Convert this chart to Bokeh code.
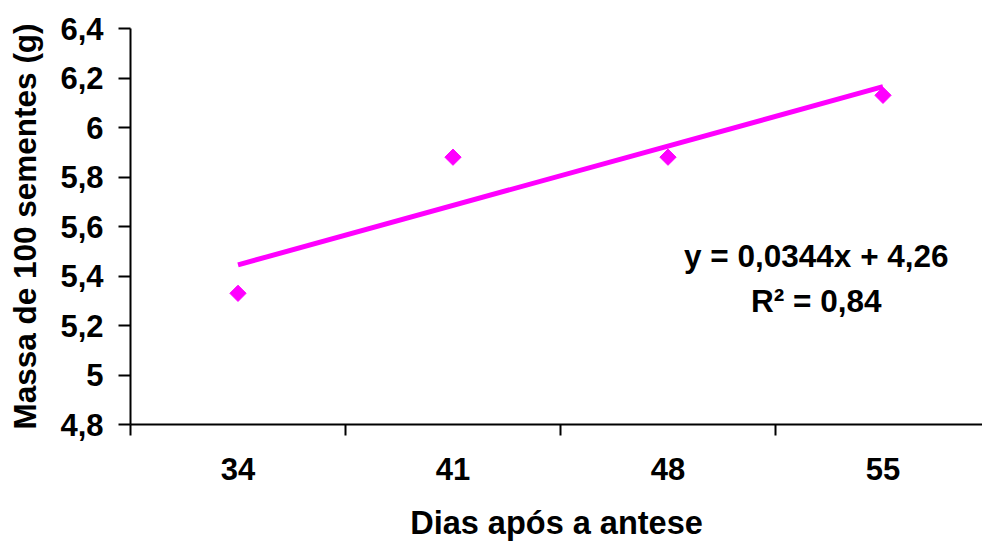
import numpy as np
from bokeh.plotting import figure
from bokeh.models import FixedTicker, CustomJSTickFormatter, Range1d, Label
from bokeh.embed import file_html
from bokeh.resources import INLINE

# data
days = [34, 41, 48, 55]
massa = [5.33, 5.88, 5.88, 6.13]
eq_slope = 0.0344
eq_intercept = 4.26
r2 = 0.84
y_ticks = [4.8, 5.0, 5.2, 5.4, 5.6, 5.8, 6.0, 6.2, 6.4]
x_label = "Dias após a antese"
y_label = "Massa de 100 sementes (g)"

FONT = "Liberation Sans"
MAG = "#FF00FF"

p = figure(width=982, height=545, output_backend="svg", toolbar_location=None,
           x_range=Range1d(30.5, 58.24), y_range=Range1d(4.8, 6.4),
           min_border_left=130, min_border_right=0, min_border_top=28,
           min_border_bottom=121)
p.outline_line_color = None
p.xgrid.visible = False
p.ygrid.visible = False
p.background_fill_color = "white"
p.border_fill_color = "white"

# linear trend line (least squares fit of the data)
slope, intercept = np.polyfit(days, massa, 1)
tx = [days[0], days[-1]]
ty = [slope * d + intercept for d in tx]
p.line(tx, ty, line_color=MAG, line_width=5)
p.scatter(days, massa, marker="square", size=11.5, angle=0.785398,
          fill_color=MAG, line_color=MAG)

# x axis
xa = p.xaxis[0]
xa.ticker = FixedTicker(ticks=days, minor_ticks=[30.5, 37.5, 44.5, 51.5])
xa.major_tick_out = 0
xa.major_tick_in = 0
xa.minor_tick_out = 11
xa.minor_tick_in = 0
xa.minor_tick_line_width = 2
xa.minor_tick_line_color = "black"
xa.axis_line_width = 2
xa.axis_line_color = "black"
xa.major_label_standoff = 22
xa.major_label_text_font = FONT
xa.major_label_text_font_style = "bold"
xa.major_label_text_font_size = "31px"
xa.major_label_text_color = "black"
xa.axis_label = x_label
xa.axis_label_text_font = FONT
xa.axis_label_text_font_style = "bold"
xa.axis_label_text_font_size = "32.5px"
xa.axis_label_text_color = "black"
xa.axis_label_standoff = 22

# y axis
ya = p.yaxis[0]
ya.ticker = FixedTicker(ticks=y_ticks)
ya.formatter = CustomJSTickFormatter(code="""
var s = (Math.round(tick*10)/10).toString();
return s.replace('.', ',');
""")
ya.major_tick_out = 12
ya.major_tick_in = 0
ya.minor_tick_out = 0
ya.minor_tick_in = 0
ya.major_tick_line_width = 2
ya.axis_line_width = 2
ya.axis_line_color = "black"
ya.major_label_standoff = 15
ya.major_label_text_font = FONT
ya.major_label_text_font_style = "bold"
ya.major_label_text_font_size = "31px"
ya.major_label_text_color = "black"
ya.axis_label = y_label
ya.axis_label_text_font = FONT
ya.axis_label_text_font_style = "bold"
ya.axis_label_text_font_size = "31.5px"
ya.axis_label_text_color = "black"
ya.axis_label_standoff = 14

eq = "y = " + f"{eq_slope:.4f}".replace(".", ",") + "x + " + f"{eq_intercept:.2f}".replace(".", ",")
r2txt = "R² = " + f"{r2:.2f}".replace(".", ",")
for txt, yy in [(eq, 5.48), (r2txt, 5.30)]:
    p.add_layout(Label(x=52.83, y=yy, text=txt, text_align="center",
                       text_baseline="middle", text_font=FONT,
                       text_font_style="bold", text_font_size="31.5px",
                       text_color="black"))

open("out.html", "w").write(file_html(p, INLINE))
